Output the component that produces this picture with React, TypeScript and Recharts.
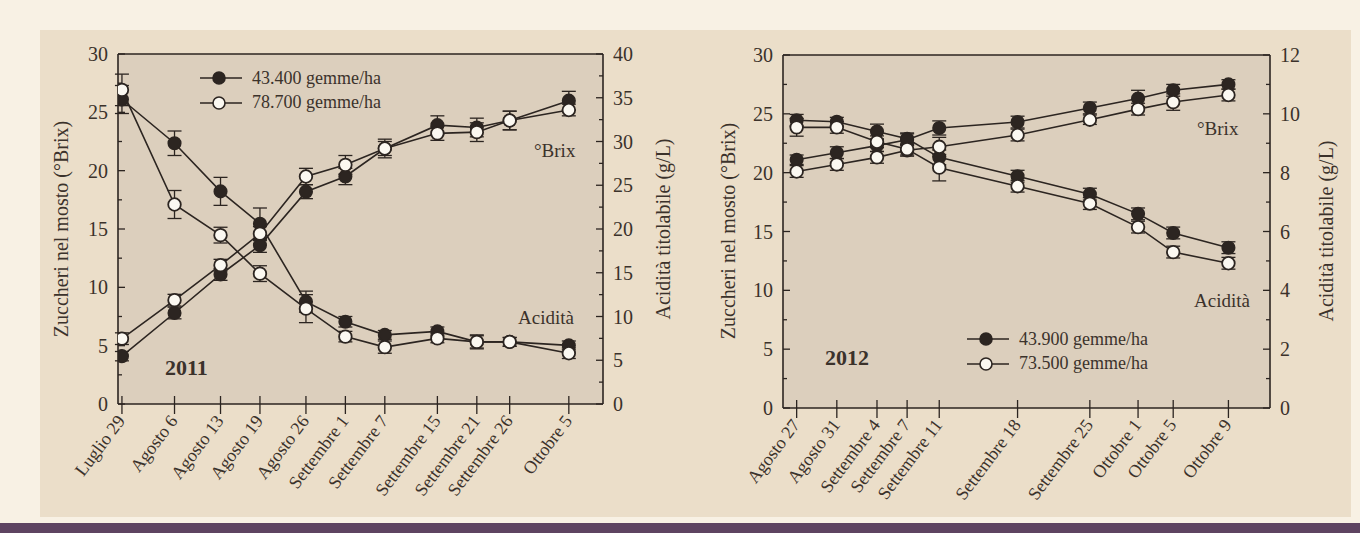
import { LineChart, Line, XAxis, YAxis, ErrorBar, CartesianGrid, ReferenceLine, Legend } from "recharts";

const FONT = '"Liberation Serif", "Times New Roman", serif';
const INK = "#2c2521";
const TEXT = "#3b322b";
const OPEN_FILL = "#fbf8f1";

// 2011
const labels2011 = ["Luglio 29", "Agosto 6", "Agosto 13", "Agosto 19", "Agosto 26", "Settembre 1", "Settembre 7", "Settembre 15", "Settembre 21", "Settembre 26", "Ottobre 5"];
const days2011 = [0, 8, 15, 21, 28, 34, 40, 48, 54, 59, 68];
const names2011 = ["43.400 gemme/ha", "78.700 gemme/ha"];
const brixLow2011 = [4.1, 7.8, 11.1, 13.6, 18.2, 19.5, 21.9, 23.9, 23.7, 24.3, 26.0];
const brixHigh2011 = [5.6, 8.9, 11.9, 14.6, 19.5, 20.5, 21.9, 23.2, 23.3, 24.3, 25.2];
const acidLow2011 = [34.8, 29.8, 24.3, 20.6, 11.7, 9.4, 7.9, 8.3, 7.1, 7.1, 6.7];
const acidHigh2011 = [35.9, 22.8, 19.3, 14.9, 10.9, 7.7, 6.5, 7.5, 7.1, 7.1, 5.8];
const errBrixLow2011 = [0.4, 0.5, 0.5, 0.6, 0.6, 0.7, 0.6, 0.8, 0.8, 0.8, 0.8];
const errBrixHigh2011 = [0.5, 0.5, 0.5, 0.6, 0.7, 0.8, 0.8, 0.6, 0.8, 0.8, 0.5];
const errAcidLow2011 = [1.6, 1.4, 1.6, 1.8, 1.2, 0.6, 0.5, 0.5, 0.8, 0.5, 0.5];
const errAcidHigh2011 = [1.8, 1.6, 0.9, 0.9, 1.6, 0.6, 0.7, 0.5, 0.7, 0.5, 0.6];

// 2012
const labels2012 = ["Agosto 27", "Agosto 31", "Settembre 4", "Settembre 7", "Settembre 11", "Settembre 18", "Settembre 25", "Ottobre 1", "Ottobre 5", "Ottobre 9"];
const days2012 = [0, 4, 8, 11, 14.2, 22, 29.2, 34, 37.5, 43];
const names2012 = ["43.900 gemme/ha", "73.500 gemme/ha"];
const brixLow2012 = [21.1, 21.7, 22.3, 22.8, 23.8, 24.3, 25.5, 26.3, 27.0, 27.5];
const brixHigh2012 = [20.1, 20.7, 21.3, 21.9, 22.2, 23.2, 24.5, 25.4, 26.0, 26.6];
const acidLow2012 = [9.78, 9.73, 9.4, 9.15, 8.52, 7.88, 7.27, 6.6, 5.95, 5.45];
const acidHigh2012 = [9.54, 9.54, 9.05, 8.8, 8.17, 7.54, 6.95, 6.15, 5.3, 4.92];
const errBrixLow2012 = [0.4, 0.5, 0.5, 0.5, 0.6, 0.5, 0.5, 0.7, 0.5, 0.4];
const errBrixHigh2012 = [0.5, 0.5, 0.5, 0.5, 0.8, 0.5, 0.4, 0.5, 0.7, 0.5];
const errAcidLow2012 = [0.2, 0.15, 0.25, 0.2, 0.25, 0.2, 0.2, 0.2, 0.2, 0.2];
const errAcidHigh2012 = [0.3, 0.2, 0.2, 0.2, 0.45, 0.2, 0.2, 0.2, 0.2, 0.2];

const brixTicks = [0, 2.5, 5, 7.5, 10, 12.5, 15, 17.5, 20, 22.5, 25, 27.5, 30];
const acidTicks2011 = [0, 2.5, 5, 7.5, 10, 12.5, 15, 17.5, 20, 22.5, 25, 27.5, 30, 32.5, 35, 37.5, 40];
const acidTicks2012 = [0, 1, 2, 3, 4, 5, 6, 7, 8, 9, 10, 11, 12];

const buildRows = (days: number[], bL: number[], bH: number[], aL: number[], aH: number[], ebL: number[], ebH: number[], eaL: number[], eaH: number[]) =>
  days.map((day, i) => ({
    day,
    brixLow: bL[i], brixHigh: bH[i], acidLow: aL[i], acidHigh: aH[i],
    eBrixLow: ebL[i], eBrixHigh: ebH[i], eAcidLow: eaL[i], eAcidHigh: eaH[i],
  }));

const rows2011 = buildRows(days2011, brixLow2011, brixHigh2011, acidLow2011, acidHigh2011, errBrixLow2011, errBrixHigh2011, errAcidLow2011, errAcidHigh2011);
const rows2012 = buildRows(days2012, brixLow2012, brixHigh2012, acidLow2012, acidHigh2012, errBrixLow2012, errBrixHigh2012, errAcidLow2012, errAcidHigh2012);

const GAP = 10;

const YTick = (props: any) => {
  const { x, y, payload, side, major } = props;
  const v = payload.value;
  const isMajor = Math.abs(v / major - Math.round(v / major)) < 1e-6;
  const axisX = side === "left" ? x + GAP : x - GAP;
  const dir = side === "left" ? 1 : -1;
  const len = isMajor ? 7 : 4;
  return (
    <g>
      <line x1={axisX} x2={axisX + dir * len} y1={y} y2={y} stroke={INK} strokeWidth={1.3} />
      {isMajor && (
        <text x={x} y={y} dy="0.35em" textAnchor={side === "left" ? "end" : "start"} fontFamily={FONT} fontSize={20} fill={TEXT}>
          {v}
        </text>
      )}
    </g>
  );
};

const XTick = (props: any) => {
  const { x, y, payload, days, labels } = props;
  const label = labels[days.indexOf(payload.value)];
  return (
    <g>
      <line x1={x} x2={x} y1={y - 8} y2={y + 10} stroke={INK} strokeWidth={1.3} />
      <text transform={`translate(${x + 4},${y + 17}) rotate(-53)`} textAnchor="end" fontFamily={FONT} fontSize={18} fill={TEXT}>
        {label}
      </text>
    </g>
  );
};

const LegendBox = ({ names }: { names: string[] }) => (
  <div style={{ fontFamily: FONT, fontSize: 18, color: TEXT }}>
    {names.map((n, i) => (
      <div key={n} style={{ display: "flex", alignItems: "center", height: 24.5 }}>
        <svg width={42} height={16}>
          <line x1={0} x2={42} y1={8} y2={8} stroke={INK} strokeWidth={1.6} />
          <circle cx={19} cy={8} r={6} fill={i === 0 ? INK : OPEN_FILL} stroke={INK} strokeWidth={1.6} />
        </svg>
        <span style={{ marginLeft: 10, whiteSpace: "nowrap" }}>{n}</span>
      </div>
    ))}
  </div>
);

type PanelProps = {
  left: number;
  width: number;
  marginTop: number;
  yAxisLeftWidth: number;
  yAxisRightWidth: number;
  xAxisHeight: number;
  rows: any[];
  days: number[];
  labels: string[];
  names: string[];
  xDomain: [number, number];
  acidDomain: [number, number];
  acidTicks: number[];
  acidMajor: number;
  legendPos: { left: number; top: number };
};

const Panel = (p: PanelProps) => {
  const filledDot = { r: 6.3, fill: INK, stroke: INK, strokeWidth: 1.5 };
  const openDot = { r: 6.3, fill: OPEN_FILL, stroke: INK, strokeWidth: 1.8 };
  return (
    <div style={{ position: "absolute", left: p.left, top: 30 }}>
      <LineChart width={p.width} height={487} data={p.rows} margin={{ top: p.marginTop, right: 0, bottom: 0, left: 0 }}>
        <CartesianGrid yAxisId="left" horizontal={false} vertical={false} fill="#dccfbd" />
        <XAxis
          dataKey="day"
          type="number"
          domain={p.xDomain}
          allowDataOverflow
          ticks={p.days}
          interval={0}
          height={p.xAxisHeight}
          tickLine={false}
          tickSize={0}
          tickMargin={0}
          axisLine={{ stroke: INK, strokeWidth: 1.6 }}
          tick={(t: any) => <XTick {...t} days={p.days} labels={p.labels} />}
        />
        <YAxis
          yAxisId="left"
          domain={[0, 30]}
          allowDataOverflow
          ticks={brixTicks}
          interval={0}
          width={p.yAxisLeftWidth}
          tickLine={false}
          tickSize={0}
          tickMargin={GAP}
          axisLine={{ stroke: INK, strokeWidth: 1.6 }}
          tick={(t: any) => <YTick {...t} side="left" major={5} />}
        />
        <YAxis
          yAxisId="right"
          orientation="right"
          domain={p.acidDomain}
          allowDataOverflow
          ticks={p.acidTicks}
          interval={0}
          width={p.yAxisRightWidth}
          tickLine={false}
          tickSize={0}
          tickMargin={GAP}
          axisLine={{ stroke: INK, strokeWidth: 1.6 }}
          tick={(t: any) => <YTick {...t} side="right" major={p.acidMajor} />}
        />
        <ReferenceLine yAxisId="left" y={30} stroke={INK} strokeWidth={1.6} />
        <Legend
          layout="vertical"
          align="center"
          verticalAlign="middle"
          wrapperStyle={{ position: "absolute", left: p.legendPos.left, top: p.legendPos.top, width: "auto" }}
          content={() => <LegendBox names={p.names} />}
        />
        <Line yAxisId="left" dataKey="brixLow" name={p.names[0]} stroke={INK} strokeWidth={1.6} dot={filledDot} activeDot={false} isAnimationActive={false}>
          <ErrorBar dataKey="eBrixLow" width={7} stroke={INK} strokeWidth={1.3} direction="y" isAnimationActive={false} />
        </Line>
        <Line yAxisId="right" dataKey="acidLow" legendType="none" stroke={INK} strokeWidth={1.6} dot={filledDot} activeDot={false} isAnimationActive={false}>
          <ErrorBar dataKey="eAcidLow" width={7} stroke={INK} strokeWidth={1.3} direction="y" isAnimationActive={false} />
        </Line>
        <Line yAxisId="left" dataKey="brixHigh" name={p.names[1]} stroke={INK} strokeWidth={1.6} dot={openDot} activeDot={false} isAnimationActive={false}>
          <ErrorBar dataKey="eBrixHigh" width={7} stroke={INK} strokeWidth={1.3} direction="y" isAnimationActive={false} />
        </Line>
        <Line yAxisId="right" dataKey="acidHigh" legendType="none" stroke={INK} strokeWidth={1.6} dot={openDot} activeDot={false} isAnimationActive={false}>
          <ErrorBar dataKey="eAcidHigh" width={7} stroke={INK} strokeWidth={1.3} direction="y" isAnimationActive={false} />
        </Line>
      </LineChart>
    </div>
  );
};

const Note = ({ x, y, children, bold, size = 19 }: { x: number; y: number; children: any; bold?: boolean; size?: number }) => (
  <div
    style={{
      position: "absolute", left: x, top: y, transform: "translateY(-50%)", fontFamily: FONT,
      fontSize: size, fontWeight: bold ? 700 : 400, color: TEXT, lineHeight: 1, whiteSpace: "nowrap",
    }}
  >
    {children}
  </div>
);

const VTitle = ({ x, y, children }: { x: number; y: number; children: any }) => (
  <div
    style={{
      position: "absolute", left: x, top: y, transform: "translate(-50%, -50%) rotate(-90deg)",
      fontFamily: FONT, fontSize: 20, color: TEXT, lineHeight: 1, whiteSpace: "nowrap",
    }}
  >
    {children}
  </div>
);

export default function App() {
  return (
    <div style={{ position: "absolute", left: 0, top: 0, width: 1360, height: 533, background: "#f8f1e4", overflow: "hidden" }}>
      <div style={{ position: "absolute", left: 40, top: 30, width: 1311, height: 487, background: "#ebdec9" }} />
      <div style={{ position: "absolute", left: 0, top: 523, width: 1360, height: 10, background: "#5e4461" }} />

      <Panel
        left={40}
        width={640}
        marginTop={24}
        yAxisLeftWidth={78}
        yAxisRightWidth={77}
        xAxisHeight={113}
        rows={rows2011}
        days={days2011}
        labels={labels2011}
        names={names2011}
        xDomain={[-0.6, 73.2]}
        acidDomain={[0, 40]}
        acidTicks={acidTicks2011}
        acidMajor={5}
        legendPos={{ left: 160, top: 36 }}
      />
      <Panel
        left={703}
        width={647}
        marginTop={25}
        yAxisLeftWidth={80}
        yAxisRightWidth={80}
        xAxisHeight={109}
        rows={rows2012}
        days={days2012}
        labels={labels2012}
        names={names2012}
        xDomain={[-1.36, 47.14]}
        acidDomain={[0, 12]}
        acidTicks={acidTicks2012}
        acidMajor={2}
        legendPos={{ left: 264, top: 297 }}
      />

      <VTitle x={61} y={229}>Zuccheri nel mosto (°Brix)</VTitle>
      <VTitle x={663} y={229}>Acidità titolabile (g/L)</VTitle>
      <VTitle x={728} y={231}>Zuccheri nel mosto (°Brix)</VTitle>
      <VTitle x={1326} y={231}>Acidità titolabile (g/L)</VTitle>

      <Note x={165} y={368} bold size={22}>2011</Note>
      <Note x={534} y={150}>°Brix</Note>
      <Note x={518} y={317}>Acidità</Note>
      <Note x={825} y={358} bold size={22}>2012</Note>
      <Note x={1197} y={128}>°Brix</Note>
      <Note x={1194} y={300}>Acidità</Note>
    </div>
  );
}
